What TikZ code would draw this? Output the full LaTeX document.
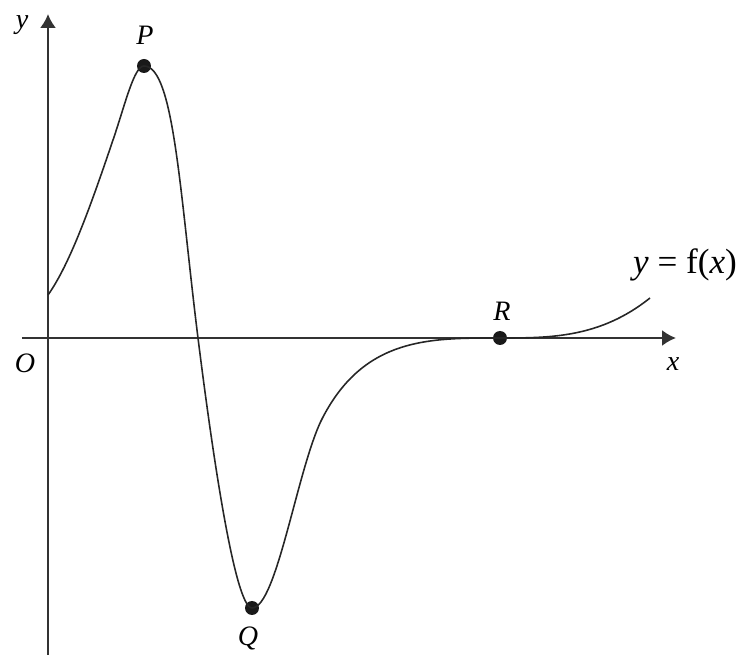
\documentclass[tikz,border=0pt]{standalone}
\usepackage{fontspec}
\setmainfont{Liberation Serif}
\usetikzlibrary{arrows.meta}
\tikzset{>={Latex[length=0.28cm,width=0.32cm]}}
\colorlet{axisgray}{black!80}
\colorlet{curvegray}{black!85}
\tikzset{
  axis/.style={->,axisgray,line width=1.1pt},
  curve/.style={curvegray,line width=0.9pt},
  dot/.style={circle,fill=black!90,inner sep=0pt,minimum size=0.28cm},
  lab/.style={font=\fontsize{16}{19}\selectfont\itshape,inner sep=0pt},
}

\begin{document}
\begin{tikzpicture}[x=0.02cm,y=0.02cm]
  \useasboundingbox (-48,-321) rectangle (697,338);
  % axes
  \coordinate (O) at (0,0);
  \coordinate (xstart) at (-26,0);
  \coordinate (xend) at (628,0);
  \coordinate (ystart) at (0,-317);
  \coordinate (yend) at (0,324);
  \draw[axis] (xstart) -- (xend);
  \draw[axis] (ystart) -- (yend);
  % points on the curve
  \coordinate (S) at (0,43);
  \coordinate (M1) at (65,198);
  \coordinate (X) at (150,0);
  \coordinate (M2) at (275,-79);
  \coordinate (E) at (602,40);
  \node[dot] (P) at (96,272) {};
  \node[dot] (Q) at (204,-270) {};
  \node[dot] (R) at (452,0) {};
  \draw[curve] (S)
    .. controls (22,74) and (43,133) .. (M1)
    .. controls (77,233) and (86,272) .. (P.center)
    .. controls (126,272) and (132,144) .. (X)
    .. controls (162,-96) and (186,-270) .. (Q.center)
    .. controls (229,-270) and (250,-126) .. (M2)
    .. controls (317,1) and (382,0) .. (R.center)
    .. controls (502,0) and (552,0) .. (E);
  % labels
  \node[lab] (ylab) at (-26,313) {y};
  \node[lab] (xlab) at (625,-26) {x};
  \node[lab] (Olab) at (-23,-25) {O};
  \node[lab] (Plab) at (97,303) {P};
  \node[lab] (Qlab) at (200,-300) {Q};
  \node[lab] (Rlab) at (454,27) {R};
  \node[font=\fontsize{20}{24}\selectfont,inner sep=0pt] (flab) at (637,73)
    {\textit{y} = f(\textit{x})};
\end{tikzpicture}
\end{document}
